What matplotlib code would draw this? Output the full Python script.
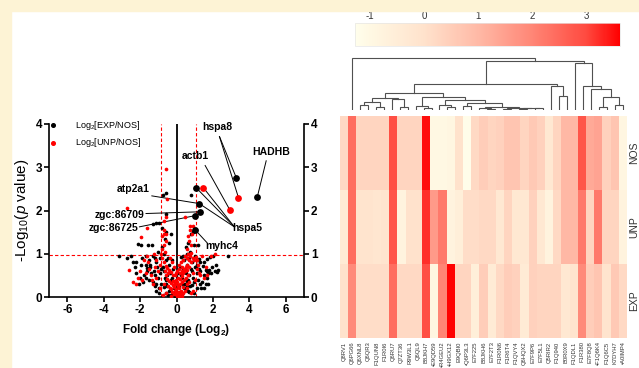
import numpy as np
import matplotlib
matplotlib.use("Agg")
import matplotlib.pyplot as plt
from matplotlib.colors import LinearSegmentedColormap, Normalize
from matplotlib.patches import Rectangle
from matplotlib.transforms import blended_transform_factory

plt.rcParams['font.family'] = ['Liberation Sans', 'DejaVu Sans']
plt.rcParams['axes.unicode_minus'] = False
plt.rcParams['mathtext.fontset'] = 'custom'
plt.rcParams['mathtext.rm'] = 'Liberation Sans'
plt.rcParams['mathtext.it'] = 'Liberation Sans:italic'
plt.rcParams['mathtext.bf'] = 'Liberation Sans:bold'

# ---------------- volcano plot data ----------------
# Log2[EXP/NOS]
exp_x = [-0.3, -0.2, -0.1, 0.1, 0.2, 0.3, -0.4, 0.4, -0.5, 0.5, -0.6, 0.6, -0.7, 0.7,
         -0.85, 0.85, 0.15, -0.15,
         -1.0, -1.2, -1.4, -1.6, -1.8, -2.0, -1.3, -1.1, -0.9, -0.7, -0.5, -0.3, 0.3, 0.5,
         0.7, 0.9, 1.1, 1.3, 1.5, 1.7, 1.9, 2.1, 1.2, 1.4, 0.95, 1.6, -2.2, -1.5, 1.8, 2.2,
         -2.5, -2.2, -1.9, -1.7, -1.5, -1.3, -1.1, -0.9, -0.75, -0.6, -0.4, -0.2, 0.2, 0.4,
         0.55, 0.7, 0.85, 1.0, 1.15, 1.3, 1.5, 1.7, 1.85, 2.0, 1.25, -1.95, -1.6, -2.3,
         -2.1, -1.95, -1.0, -0.8, -0.65, -0.55, -0.3, -0.4, 0.5, 0.65, 0.75, 0.9, 1.05,
         0.95, 1.2, 0.8, -0.8, -0.95, -1.1, -1.3,
         -0.75, -0.55, -0.55, 0.78, -3.13, 2.82, 0.35, 0.6, 0.45, 0.25, -0.25, 0.8, 1.0,
         -1.2, -0.95, -1.45, 1.35, 1.6, 1.75, 0.65, 0.35, -0.6, -0.45, 0.1, 1.1, -1.7,
         0.45, 0.65, 0.85, 1.05, 1.25, 1.45, 1.65, 1.95, 2.15, 0.55, 0.35, 1.1, 1.3, 1.5,
         0.75, 0.95, 1.75, 2.3, -0.65, -0.85, -1.05, -1.25, -1.45, -1.65, -1.85, -2.05,
         -0.55, -0.35, -1.15, -0.95, -2.4, -2.7, -1.2, -0.45, -0.25, 0.25, -1.35, -1.55,
         -0.7, 0.6]
exp_y = [0.05, 0.10, 0.02, 0.05, 0.12, 0.08, 0.15, 0.20, 0.25, 0.18, 0.10, 0.25, 0.22, 0.12,
         0.30, 0.28, 0.25, 0.20,
         0.45, 0.50, 0.55, 0.60, 0.50, 0.45, 0.35, 0.30, 0.55, 0.60, 0.50, 0.40, 0.45, 0.55,
         0.50, 0.45, 0.55, 0.60, 0.50, 0.45, 0.55, 0.60, 0.40, 0.35, 0.35, 0.30, 0.55, 0.40,
         0.62, 0.58,
         0.95, 0.80, 0.90, 0.75, 0.85, 0.95, 0.80, 0.90, 0.70, 0.85, 0.75, 0.65, 0.70, 0.85,
         0.75, 0.90, 0.80, 0.95, 0.85, 0.80, 0.82, 0.87, 0.92, 0.95, 0.88, 0.75, 0.68, 0.70,
         1.22, 1.20, 1.05, 1.15, 1.35, 1.50, 1.45, 1.25, 1.15, 1.25, 1.05, 1.50, 1.55,
         1.20, 1.20, 1.45, 1.60, 1.70, 1.72, 1.68,
         2.35, 2.40, 1.92, 2.35, 0.95, 0.95, 0.30, 0.38, 0.62, 0.50, 0.45, 0.65, 0.70,
         0.25, 0.20, 0.70, 0.20, 0.62, 0.30, 0.15, 0.65, 0.40, 0.05, 0.55, 0.75, 0.95,
         0.30, 0.40, 0.60, 0.70, 0.65, 0.72, 0.60, 0.70, 0.75, 0.90, 0.95, 0.20, 0.30, 0.20,
         0.25, 0.10, 0.55, 0.62, 0.45, 0.65, 0.70, 0.60, 0.75, 0.45, 0.35, 0.30,
         0.30, 0.55, 0.15, 0.10, 0.80, 0.90, 0.90, 0.90, 0.85, 0.92, 1.20, 1.20,
         1.00, 1.00]

# Log2[UNP/NOS]
unp_x = [0.0, 0.05, -0.05, 0.1, -0.1, 0.15, -0.15, 0.2, -0.2, 0.25, -0.25, 0.3, -0.3, 0.35,
         -0.35, 0.4, -0.4, 0.45, -0.45, 0.5, -0.5, 0.05, -0.05, 0.1, -0.1, 0.2, -0.2, 0.3,
         -0.3, 0.4, -0.4, 0.5, -0.5, 0.6, -0.6, 0.15, 0.25, 0.35, 0.45, 0.55, 0.65, 0.7,
         0.75, 0.8, -0.7, -0.8, -0.9, -1.0, -1.2, -1.4, -1.5, -1.7, -1.9, -2.1, -2.6, -1.8,
         -1.6, -1.3, -1.1, 0.9, 1.0, 1.1, 1.2, 1.3, 1.5, 0.95, 1.05, 1.4, 1.6,
         -0.65, -0.7, -0.6, -0.55, -0.7, -0.8, 0.6, 0.7, 0.85, 0.9, 0.8, 0.65,
         -0.6, -0.5, -2.71, -0.55, 0.48, -1.6, -1.94, 2.1, -2.38, -1.25, -0.55, 0.6, -0.7,
         0.7, -0.9, 0.9, -0.75, 0.8, 0.02, -0.02, 0.08, -0.08, 0.12, -0.12, 0.18, -0.18,
         0.22, 0.28, -0.28, 0.33,
         0.55, 0.65, -0.55, -0.65, 0.12, -0.12, 0.28, -0.25, -0.38, 0.38, 0.48, -0.48,
         0.58, 0.68, 0.78, 0.88, -0.85, -0.78, -0.7, -0.66, 0.72, 0.75, 1.15, 1.25, -1.15,
         -1.35, -1.55, -2.0, -2.2, 1.7, 1.9, 0.02, -0.02, 0.08, -0.08, 0.18, -0.18, 0.3,
         -0.3, 0.15]
unp_y = [0.02, 0.05, 0.08, 0.12, 0.15, 0.20, 0.22, 0.30, 0.28, 0.10, 0.12, 0.35, 0.32, 0.22,
         0.20, 0.40, 0.38, 0.15, 0.25, 0.45, 0.42, 0.35, 0.40, 0.45, 0.50, 0.55, 0.52, 0.60,
         0.58, 0.65, 0.62, 0.70, 0.68, 0.75, 0.72, 0.65, 0.80, 0.85, 0.95, 0.90, 1.00, 0.85,
         0.95, 1.02, 0.80, 0.90, 0.75, 0.60, 0.70, 0.50, 0.65, 0.55, 0.40, 0.45, 0.62, 0.85,
         0.95, 0.30, 0.45, 0.55, 0.40, 0.65, 0.75, 0.50, 0.45, 0.85, 0.92, 0.95, 0.70,
         1.05, 1.20, 1.30, 1.45, 1.55, 1.40, 1.10, 1.30, 1.45, 1.65, 1.20, 1.40,
         2.96, 2.26, 2.06, 1.85, 1.86, 1.60, 1.39, 1.00, 0.35, 1.00, 0.10, 0.20, 0.30,
         0.35, 0.20, 0.15, 0.05, 0.10, 0.10, 0.18, 0.25, 0.30, 0.06, 0.08, 0.42, 0.38,
         0.15, 0.48, 0.18, 0.10,
         0.30, 0.50, 0.50, 0.60, 0.75, 0.70, 0.70, 0.80, 0.90, 0.55, 0.60, 0.55,
         0.62, 0.70, 0.80, 0.90, 1.00, 1.10, 1.45, 1.75, 1.55, 1.65, 0.85, 0.55, 0.85,
         0.40, 0.80, 0.60, 0.30, 0.50, 0.95, 0.60, 0.55, 0.28, 0.32, 0.42, 0.38, 0.02,
         0.02, 0.02]

# highlighted proteins
hi_exp_x = [4.44, 3.28, 1.07, 1.25, 1.29, 1.01, 1.03]
hi_exp_y = [2.32, 2.76, 2.53, 2.16, 1.97, 1.88, 1.55]
hi_unp_x = [3.40, 2.92, 1.47]
hi_unp_y = [2.30, 2.02, 2.53]

# label text, text anchor, leader start, leader targets (series, index)
annotations = [
    ("HADHB", (5.19, 3.36), (4.93, 3.16), [("exp", 0)]),
    ("hspa8", (2.22, 3.93), (2.35, 3.72), [("exp", 1), ("unp", 0)]),
    ("actb1", (1.02, 3.25), (1.56, 3.05), [("unp", 1)]),
    ("atp2a1", (-2.40, 2.49), (-1.38, 2.34), [("exp", 3)]),
    ("zgc:86709", (-3.13, 1.89), (-1.70, 1.93), [("exp", 4)]),
    ("zgc:86725", (-3.44, 1.60), (-2.06, 1.62), [("exp", 5)]),
    ("hspa5", (3.90, 1.60), (3.18, 1.62), [("exp", 2), ("unp", 2), ("exp", 3)]),
    ("myhc4", (2.50, 1.19), (1.71, 1.24), [("exp", 6)]),
]

fc_cut_low, fc_cut_high, p_cut = -0.87, 1.07, 0.97

# ---------------- heatmap data ----------------
proteins = ["Q8RV1", "Q6PG66", "Q6XNL8", "Q6QR3", "F1QUN8", "F1R0I6", "Q6RU7", "Q7ZT36",
            "R9W3L1", "Q6QL9", "B8JKH7", "E9QD59", "R4GEU2", "H9GX12", "E9QBI0", "Q6P3L3",
            "E7F225", "B8JKH6", "E7F2T3", "F1R0N6", "F1R6T4", "F1QVY4", "Q6HQX2", "E7F9P6",
            "E7F5L1", "Q5RIR2", "F1Q940", "B0R0X9", "F1QDL1", "F1R380", "E7F8Q8", "F1Q6K4",
            "F1Q6C5", "K7DYH7", "A0IMP4"]
marked = ["E9QD59", "R4GEU2", "H9GX12", "Q6P3L3", "F1Q6K4", "A0IMP4"]
groups = ["NOS", "UNP", "EXP"]
nos = [0.2, 2.4, 0.3, 0.3, 0.3, 0.3, 2.9, 0.3, 0.3, 0.3, 3.5, -1.0, -1.0, -0.9, 0.0, -1.2,
       0.2, 0.5, 0.3, 0.4, 0.7, 0.7, 0.3, 0.6, 0.4, -0.3, 0.3, 1.0, 1.0, 2.8, 1.3, 1.4,
       0.4, 0.7, -0.9]
unp = [-0.4, 2.4, -0.1, -0.1, -0.2, -0.1, 2.8, -0.8, 0.0, 0.0, 3.2, 1.6, 2.2, -0.8, -0.6,
       0.1, 0.1, 0.2, 0.2, -0.3, 0.3, -0.3, -0.3, 0.4, -0.3, -0.8, 0.2, 1.0, 1.0, 2.2, 0.3,
       2.2, 0.3, 0.3, -0.8]
exp = [0.0, 1.9, 0.1, 0.1, 0.1, 0.1, 2.4, 0.2, 0.2, 0.2, 2.9, -0.9, 2.0, 3.6, 0.3, 0.3,
       -0.6, 0.5, -0.4, 0.2, 0.5, 0.4, -0.4, 0.4, 0.3, 0.3, 0.3, -0.3, -0.1, 1.9, 0.5, 0.7,
       -0.1, 0.6, 0.2]
scale_min, scale_max = -1.28, 3.62

# column dendrogram: (merge height, left, right); leaves are column indices
dendrogram = (155, 0,
              (147,
               (77,
                (52,
                 (35, (25, (15, 1, 2), (8, 3, 4)), (33, 5, (10, 6, 7))),
                 (40, (12, 8, (5, 9, 10)),
                  (30, (15, 11, (10, 12, 13)),
                   (20, (12, 14, 15),
                    (8, (6, 16, (3, 17, 18)),
                     (7, (4, 19, 20), (5, (3, 21, 22), (6, 23, 24)))))))),
                (72, 25, (42, 26, 27))),
               (140, 28, (72, 29, (62, 30, (40, (10, 31, 32), (15, 33, 34)))))))

# ---------------- figure ----------------
W, H = 639, 368
fig = plt.figure(figsize=(W / 100, H / 100), dpi=100, facecolor="white")

def frac(x0, y0, x1, y1):
    return [x0 / W, 1 - y1 / H, (x1 - x0) / W, (y1 - y0) / H]

cream = "#FDF3D5"
fig.patches.append(Rectangle((0, 1 - 11 / H), 1, 11 / H, transform=fig.transFigure,
                             color=cream, zorder=0))
fig.patches.append(Rectangle((0, 0), 11 / W, 1, transform=fig.transFigure,
                             color=cream, zorder=0))

# volcano panel
ax = fig.add_axes(frac(49, 124, 304, 297))
ax.set_xlim(-7, 7)
ax.set_ylim(0, 4)
for s in ("left", "right", "bottom"):
    ax.spines[s].set_linewidth(1.2)
ax.spines["top"].set_visible(False)
ax.tick_params(axis="both", direction="out", length=3.5, width=1.2, labelsize=8.5,
               pad=1.5)
ax.tick_params(axis="y", right=True, labelright=True)
ax.set_xticks([-6, -4, -2, 0, 2, 4, 6])
ax.set_yticks([0, 1, 2, 3, 4])
for lab in ax.get_xticklabels() + ax.get_yticklabels():
    lab.set_fontweight("bold")

ax.axvline(0, color="black", lw=1.3, zorder=1)
dash = dict(color="#FF0000", lw=0.8, ls=(0, (3, 2)), zorder=1)
ax.axvline(fc_cut_low, **dash)
ax.axvline(fc_cut_high, **dash)
ax.axhline(p_cut, **dash)

ax.scatter(exp_x, exp_y, s=7, color="black", linewidths=0, zorder=3)
ax.scatter(unp_x, unp_y, s=7, color="#FF0000", linewidths=0, zorder=4)
ax.scatter(hi_exp_x, hi_exp_y, s=24, color="black", linewidths=0, zorder=5)
ax.scatter(hi_unp_x, hi_unp_y, s=24, color="#FF0000", linewidths=0, zorder=5)

points = {"exp": (hi_exp_x, hi_exp_y), "unp": (hi_unp_x, hi_unp_y)}
for text, (tx, ty), (sx, sy), targets in annotations:
    ax.text(tx, ty, text, ha="center", va="center", fontsize=7.5, fontweight="bold",
            zorder=6)
    for series, i in targets:
        px, py = points[series][0][i], points[series][1][i]
        ax.plot([sx, px], [sy, py], color="black", lw=0.7, zorder=2,
                solid_capstyle="butt")

# legend keys
ax.plot([0.017], [0.994], "o", ms=2.6, color="black", transform=ax.transAxes,
        clip_on=False)
ax.plot([0.017], [0.892], "o", ms=2.6, color="#FF0000", transform=ax.transAxes,
        clip_on=False)
ax.text(0.102, 0.994, r"Log$_2$[EXP/NOS]", transform=ax.transAxes, fontsize=6.5,
        va="center", ha="left")
ax.text(0.102, 0.892, r"Log$_2$[UNP/NOS]", transform=ax.transAxes, fontsize=6.5,
        va="center", ha="left")

ax.set_ylabel(r"-Log$_{10}$($\mathit{p}$ value)", fontsize=11, labelpad=3)
ax.set_xlabel(r"Fold change (Log$_{\mathbf{2}}$)", fontsize=8.5, fontweight="bold",
              labelpad=4)

# heatmap panel
cmap = LinearSegmentedColormap.from_list(
    "cream_red",
    [(0.0, "#FFFEEC"), (0.057, "#FFF8E3"), (0.261, "#FFE2CC"), (0.465, "#FFB9A6"),
     (0.669, "#FF8676"), (0.873, "#FF4A40"), (1.0, "#FF0000")])
norm = Normalize(vmin=scale_min, vmax=scale_max)

axh = fig.add_axes(frac(340, 116, 627, 338))
matrix = np.array([nos, unp, exp])
im = axh.imshow(matrix, aspect="auto", cmap=cmap, norm=norm, interpolation="nearest")
for s in axh.spines.values():
    s.set_visible(False)
axh.set_yticks([])
axh.set_xticks(range(len(proteins)))
axh.set_xticklabels([("\u2022" + p) if p in marked else p for p in proteins],
                    rotation=90, fontsize=4.2, color="#333333")
axh.tick_params(axis="x", length=0, pad=2.5)
tr = blended_transform_factory(axh.transAxes, axh.transData)
for i, g in enumerate(groups):
    axh.text(1.007, i, g, transform=tr, rotation=90, ha="left", va="center",
             fontsize=7.5, color="#333333", clip_on=False)

# dendrogram
axd = fig.add_axes(frac(340, 55, 627, 110))
axd.set_xlim(-1.47, 34.5)
axd.set_ylim(0, 165)
axd.axis("off")

def draw(node):
    if isinstance(node, int):
        return float(node), 0.0
    h, left, right = node
    xl, hl = draw(left)
    xr, hr = draw(right)
    axd.plot([xl, xl, xr, xr], [hl, h, h, hr], color="#505050", lw=0.8,
             solid_joinstyle="miter")
    return (xl + xr) / 2, h

draw(dendrogram)

# colour scale
cax = fig.add_axes(frac(355, 23, 620, 46))
cb = fig.colorbar(im, cax=cax, orientation="horizontal")
cb.set_ticks([-1, 0, 1, 2, 3])
cb.outline.set_edgecolor("#E6E6E6")
cb.outline.set_linewidth(0.5)
cax.xaxis.set_ticks_position("top")
cax.tick_params(axis="x", length=0, labelsize=7, labelcolor="#333333", pad=1.5)

fig.savefig("out.png", dpi=100, facecolor="white")
